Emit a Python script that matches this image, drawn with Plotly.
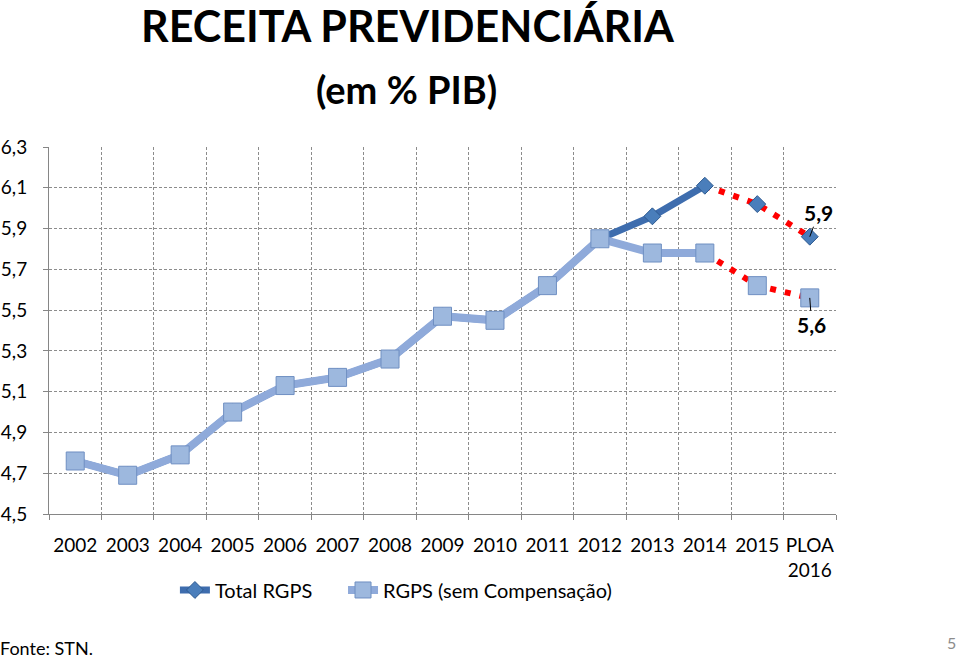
import plotly.graph_objects as go

years = ["2002", "2003", "2004", "2005", "2006", "2007", "2008", "2009",
         "2010", "2011", "2012", "2013", "2014", "2015", "PLOA<br>2016"]
total_rgps = [4.76, 4.69, 4.79, 5.00, 5.13, 5.17, 5.26, 5.47,
              5.45, 5.62, 5.85, 5.96, 6.11, 6.02, 5.86]
rgps_sem_comp = [4.76, 4.69, 4.79, 5.00, 5.13, 5.17, 5.26, 5.47,
                 5.45, 5.62, 5.85, 5.78, 5.78, 5.62, 5.56]
y_ticks = [4.5, 4.7, 4.9, 5.1, 5.3, 5.5, 5.7, 5.9, 6.1, 6.3]
last_real = 12  # index of 2014 (last realized year)

FONT = "Lato"
DARK_LINE = "#3E6DAE"
DARK_MARK = "#4A7EBB"
LIGHT_LINE = "#8FAADA"
LIGHT_MARK = "#9DB8DE"
GRID = "#8C8C8C"

fig = go.Figure()

# red dotted projection lines
for vals in (total_rgps, rgps_sem_comp):
    fig.add_trace(go.Scatter(
        x=years[last_real:], y=vals[last_real:], mode="lines",
        line=dict(color="#FF0000", width=6, dash="6px,9px"),
        showlegend=False, hoverinfo="skip"))

# Total RGPS realized
fig.add_trace(go.Scatter(
    x=years[:last_real + 1], y=total_rgps[:last_real + 1], mode="lines+markers",
    name="Total RGPS", legend="legend",
    line=dict(color=DARK_LINE, width=7),
    marker=dict(symbol="diamond", size=13, color=DARK_MARK,
                line=dict(color="#2E5A90", width=1))))

# RGPS sem compensacao realized
fig.add_trace(go.Scatter(
    x=years[:last_real + 1], y=rgps_sem_comp[:last_real + 1], mode="lines+markers",
    name="RGPS (sem Compensação)", legend="legend2",
    line=dict(color=LIGHT_LINE, width=8),
    marker=dict(symbol="square", size=18, color=LIGHT_MARK,
                line=dict(color="#6F8FC2", width=1))))

# projected markers
fig.add_trace(go.Scatter(
    x=years[last_real + 1:], y=total_rgps[last_real + 1:], mode="markers",
    marker=dict(symbol="diamond", size=13, color=DARK_MARK,
                line=dict(color="#2E5A90", width=1)),
    showlegend=False))
fig.add_trace(go.Scatter(
    x=years[last_real + 1:], y=rgps_sem_comp[last_real + 1:], mode="markers",
    marker=dict(symbol="square", size=18, color=LIGHT_MARK,
                line=dict(color="#6F8FC2", width=1)),
    showlegend=False))

# data labels for the final point
fig.add_annotation(x=years[-1], y=total_rgps[-1], text="<b>5,9</b>",
                   showarrow=True, arrowhead=0, arrowwidth=1, arrowcolor="black",
                   ax=9, ay=-24, font=dict(family=FONT, size=21, color="black"))
fig.add_annotation(x=years[-1], y=rgps_sem_comp[-1], text="<b>5,6</b>",
                   showarrow=True, arrowhead=0, arrowwidth=1, arrowcolor="black",
                   ax=2, ay=27, font=dict(family=FONT, size=21, color="black"))

# titles
fig.add_annotation(xref="paper", yref="paper", x=0.456, y=1.33,
                   text="<b>RECEITA PREVIDENCIÁRIA</b>", showarrow=False,
                   xanchor="center", yanchor="middle",
                   font=dict(family=FONT, size=43, color="black"))
fig.add_annotation(xref="paper", yref="paper", x=0.454, y=1.158,
                   text="<b>(em % PIB)</b>", showarrow=False,
                   xanchor="center", yanchor="middle",
                   font=dict(family=FONT, size=38, color="black"))
# footer
fig.add_annotation(xref="paper", yref="paper", x=-0.0635, y=-0.399,
                   text="Fonte: STN.", showarrow=False,
                   xanchor="left", yanchor="bottom", borderpad=0,
                   font=dict(family=FONT, size=18, color="black"))
fig.add_annotation(xref="paper", yref="paper", x=1.147, y=-0.35,
                   text="5", showarrow=False,
                   xanchor="center", yanchor="middle",
                   font=dict(family=FONT, size=16, color="#8C8C8C"))

legend_common = dict(orientation="h", xanchor="left", y=-0.207,
                     yanchor="middle", font=dict(family=FONT, size=20),
                     bgcolor="rgba(0,0,0,0)")

fig.update_layout(
    width=959, height=661,
    margin=dict(l=49, r=123, t=147, b=147, autoexpand=False),
    paper_bgcolor="white", plot_bgcolor="white",
    separators=",.",
    font=dict(family=FONT, size=20, color="black"),
    legend=dict(x=0.160, **legend_common),
    legend2=dict(x=0.3736, **legend_common),
    xaxis=dict(type="category", categoryorder="array", categoryarray=years,
               tickson="boundaries", ticks="outside", tickangle=0,
               ticklen=5, tickcolor="#868686",
               showline=True, linecolor="#868686", linewidth=1,
               showgrid=True, gridcolor=GRID, gridwidth=1, griddash="3px,2px",
               range=[-0.5, 14.5], tickfont=dict(family=FONT, size=19),
               ticklabelstandoff=14),
    yaxis=dict(range=[4.5, 6.3], tickvals=y_ticks, tickformat=".1f",
               ticks="outside", ticklen=5, tickcolor="#868686",
               showline=True, linecolor="#868686", linewidth=1,
               showgrid=True, gridcolor=GRID, gridwidth=1, griddash="3px,2px",
               zeroline=False, tickfont=dict(family=FONT, size=19),
               ticklabelstandoff=12),
)

fig.write_html("out.html", config={"displayModeBar": False},
               post_script="document.body.style.margin='0px';")
